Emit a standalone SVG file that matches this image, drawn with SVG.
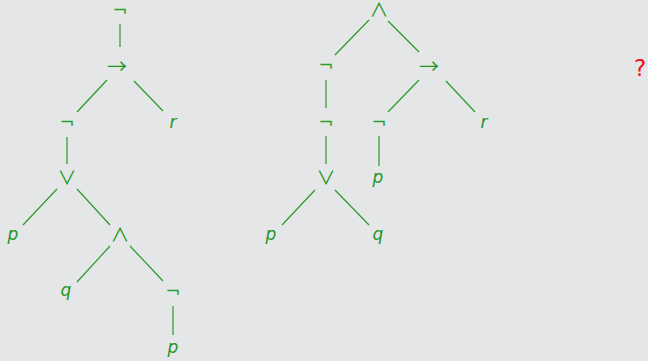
<svg xmlns="http://www.w3.org/2000/svg" width="648" height="361" viewBox="0 0 648 361">
<style>
.bg{fill:#e5e6e8}
.e line{stroke:#2a9a2a;stroke-width:1.2}
text{font-family:"DejaVu Sans",sans-serif;font-size:17px;fill:#1f961f;text-anchor:middle}
.v{font-style:italic}
.n{font-size:18px;fill:#2aa02a}
.s{font-family:"Noto Sans CJK JP",sans-serif;font-size:19px}
.a{font-family:"Noto Sans CJK JP",sans-serif;font-size:20px}
.q{fill:#ee1111;font-size:23px}
</style>
<rect class="bg" width="648" height="361"/>
<g id="edges" class="e">
<line x1="120" y1="24" x2="120" y2="47"/>
<line x1="107" y1="80" x2="77" y2="112"/>
<line x1="134" y1="81" x2="163" y2="111"/>
<line x1="67" y1="137" x2="67" y2="164"/>
<line x1="57" y1="189" x2="23" y2="225"/>
<line x1="77" y1="189" x2="110" y2="225"/>
<line x1="110" y1="246" x2="77" y2="282"/>
<line x1="130" y1="246" x2="163" y2="281"/>
<line x1="173" y1="306" x2="173" y2="335"/>
<line x1="369" y1="20" x2="335" y2="55"/>
<line x1="388" y1="21" x2="419" y2="52"/>
<line x1="326" y1="80" x2="326" y2="108"/>
<line x1="419" y1="80" x2="388" y2="112"/>
<line x1="446" y1="81" x2="475" y2="112"/>
<line x1="326" y1="136" x2="326" y2="164"/>
<line x1="379" y1="136" x2="379" y2="166"/>
<line x1="315" y1="190" x2="282" y2="225"/>
<line x1="335" y1="190" x2="369" y2="225"/>
</g>
<g id="t1-not1"><text class="n" x="120" y="16">¬</text></g>
<g id="t1-imp"><text class="a" x="117" y="74">→</text></g>
<g id="t1-not2"><text class="n" x="67" y="128">¬</text></g>
<g id="t1-r"><text class="v" x="173" y="128">r</text></g>
<g id="t1-or"><text class="s" x="67" y="185">∨</text></g>
<g id="t1-p1"><text class="v" x="13" y="240">p</text></g>
<g id="t1-and"><text class="s" x="120" y="242">∧</text></g>
<g id="t1-q"><text class="v" x="66" y="296">q</text></g>
<g id="t1-not3"><text class="n" x="173" y="297">¬</text></g>
<g id="t1-p2"><text class="v" x="173" y="353">p</text></g>
<g id="t2-and"><text class="s" x="379" y="17">∧</text></g>
<g id="t2-not1"><text class="n" x="326" y="71">¬</text></g>
<g id="t2-imp"><text class="a" x="429" y="74">→</text></g>
<g id="t2-not2"><text class="n" x="326" y="128">¬</text></g>
<g id="t2-not3"><text class="n" x="379" y="128">¬</text></g>
<g id="t2-r"><text class="v" x="484" y="128">r</text></g>
<g id="t2-or"><text class="s" x="326" y="185">∨</text></g>
<g id="t2-p1"><text class="v" x="378" y="183">p</text></g>
<g id="t2-p2"><text class="v" x="271" y="240">p</text></g>
<g id="t2-q"><text class="v" x="378" y="240">q</text></g>
<g id="question"><text class="q" x="640" y="76">?</text></g>
</svg>
